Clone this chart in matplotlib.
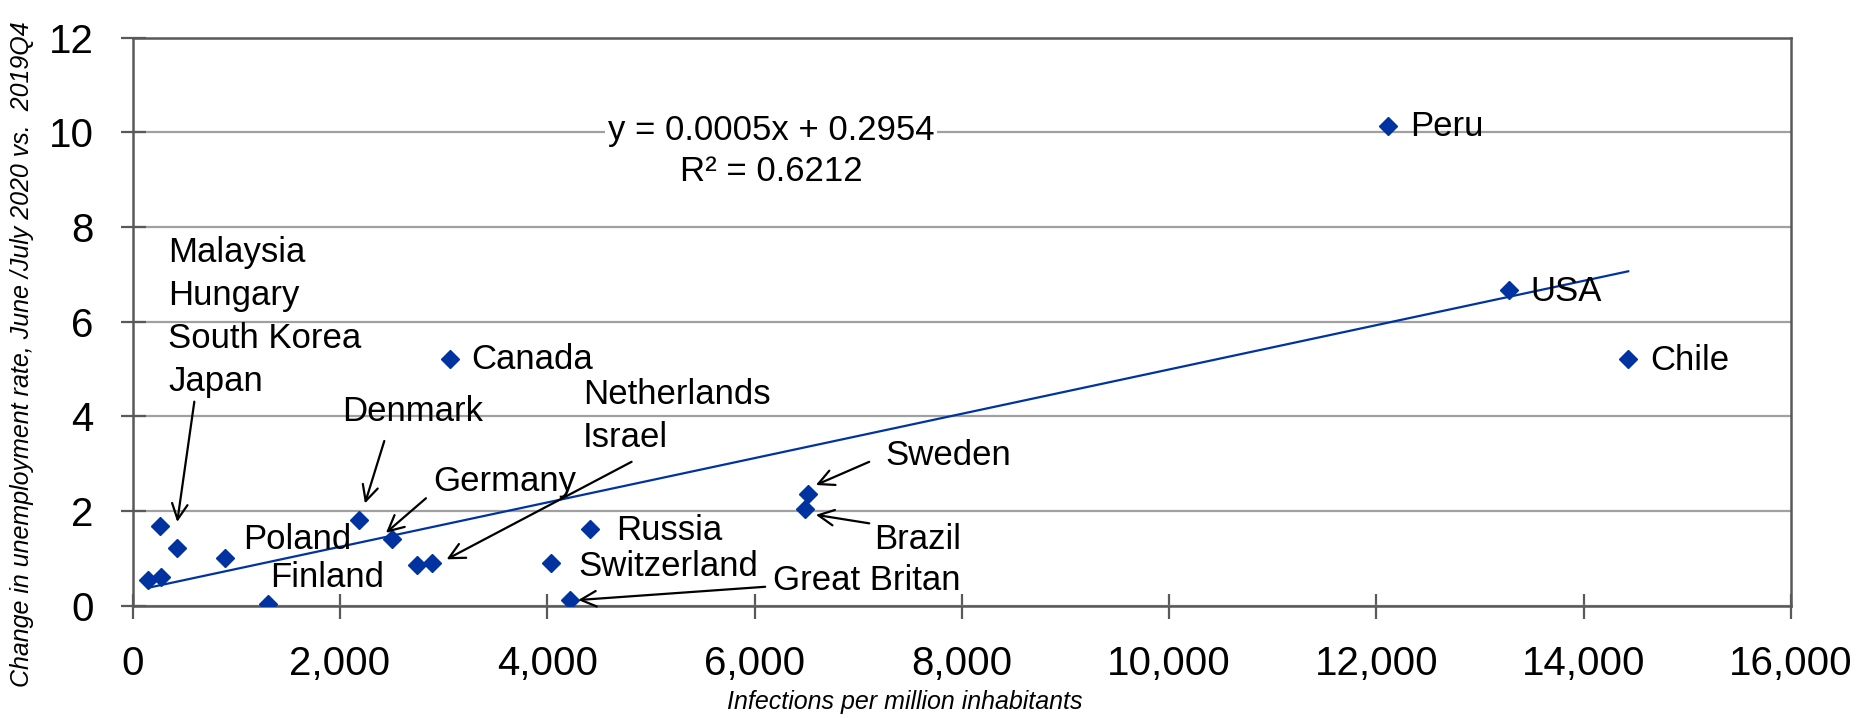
import numpy as np
import matplotlib
matplotlib.use("Agg")
import matplotlib.pyplot as plt
from matplotlib.ticker import FuncFormatter

plt.rcParams['font.family'] = ['Liberation Sans', 'DejaVu Sans']

# data
countries = ["Malaysia", "Hungary", "South Korea", "Japan", "Poland", "Finland",
             "Denmark", "Germany", "Netherlands", "Israel", "Switzerland", "Russia",
             "Great Britan", "Brazil", "Sweden", "Canada", "Peru", "USA", "Chile"]
infections = [264, 424, 151, 273, 890, 1302,
              2186, 2505, 2746, 2891, 4033, 4412,
              4219, 6486, 6512, 3063, 12117, 13276, 14430]
unemployment = [1.69, 1.21, 0.54, 0.61, 1.01, 0.03,
                1.81, 1.40, 0.85, 0.91, 0.90, 1.61,
                0.12, 2.04, 2.37, 5.22, 10.13, 6.68, 5.21]

# label text and where it sits (data coords)
label_text = ["Peru", "USA", "Chile", "Canada", "Sweden", "Brazil", "Great Britan",
              "Russia", "Switzerland", "Germany", "Denmark", "Netherlands\nIsrael",
              "Malaysia\nHungary\nSouth Korea\nJapan", "Poland", "Finland"]
label_x = [12323, 13482, 14639, 3269, 7258, 7155, 6178,
           4663, 4297, 2903, 2023, 4343, 343, 1063, 1326]
label_y = [10.12, 6.63, 5.19, 5.2, 3.18, 1.39, 0.54,
           1.58, 0.83, 2.63, 4.1, 4.0, 6.1, 1.4, 0.6]

# arrows: tail -> head
arrow_tail = [(595, 4.31), (2428, 3.48), (2830, 2.27), (4814, 3.04),
              (7107, 3.04), (7107, 1.74), (6103, 0.40)]
arrow_head = [(430, 1.77), (2241, 2.16), (2444, 1.54), (3029, 0.98),
              (6592, 2.55), (6592, 1.92), (4299, 0.12)]

blue = "#0033A0"
axis_grey = "#595959"

fig = plt.figure(figsize=(18.58, 7.18), dpi=100)
ax = fig.add_axes([0.0714, 0.1564, 0.8925, 0.7911])

ax.plot(infections, unemployment, linestyle="none", marker="D", ms=9.5,
        color=blue, zorder=4)

# linear trend line
slope, intercept = np.polyfit(infections, unemployment, 1)
xs = np.array([min(infections), max(infections)])
ax.plot(xs, slope * xs + intercept, color=blue, lw=1.6, zorder=3)

for t, x, y in zip(label_text, label_x, label_y):
    ax.text(x, y, t, fontsize=25, ha="left", va="center", linespacing=1.38, zorder=5)

for tail, head in zip(arrow_tail, arrow_head):
    ax.annotate("", xy=head, xytext=tail,
                arrowprops=dict(arrowstyle="->", lw=1.6, color="black",
                                mutation_scale=28, shrinkA=0, shrinkB=0),
                zorder=5)

ax.text(6160, 9.6, "y = 0.0005x + 0.2954\nR² = 0.6212", fontsize=25,
        ha="center", va="center", linespacing=1.32,
        bbox=dict(facecolor="white", edgecolor="none", pad=2), zorder=5)

ax.set_xlim(0, 16000)
ax.set_ylim(0, 12)
ax.set_xticks(range(0, 16001, 2000))
ax.set_yticks(range(0, 13, 2))
ax.xaxis.set_major_formatter(FuncFormatter(lambda v, p: f"{v:,.0f}"))
ax.tick_params(direction="inout", length=18, width=1.6, color=axis_grey,
               labelsize=29, pad=19)
ax.grid(axis="y", color="#A0A0A0", lw=1.6)
ax.set_axisbelow(True)
for s in ax.spines.values():
    s.set_color(axis_grey)
    s.set_linewidth(1.8)

fig.text(905 / 1858, 1 - 702 / 718, "Infections per million inhabitants",
         fontsize=18, style="italic", ha="center", va="center")
fig.text(22 / 1858, 1 - 354 / 718,
         "Change in unemployment rate, June /July 2020 vs.  2019Q4",
         fontsize=18, style="italic", rotation=90, ha="center", va="center")

fig.savefig("out.png", dpi=100)
